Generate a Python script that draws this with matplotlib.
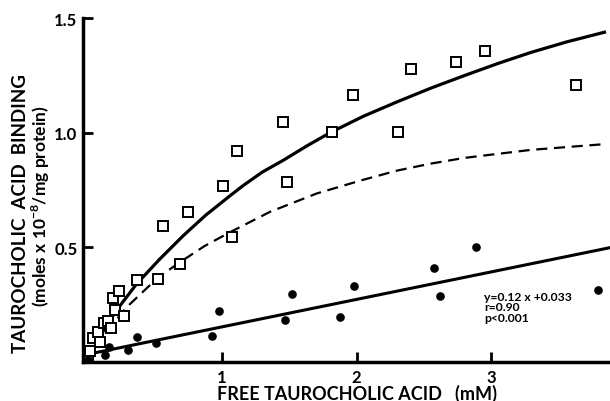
import matplotlib
matplotlib.use("Agg")
import matplotlib.pyplot as plt

plt.rcParams['font.family'] = ['Lato', 'DejaVu Sans']
plt.rcParams['mathtext.fontset'] = 'custom'
plt.rcParams['mathtext.rm'] = 'Lato'
plt.rcParams['mathtext.bf'] = 'Lato:bold'

# open squares (total binding)
sq_x = [0.005, 0.02, 0.045, 0.082, 0.094, 0.124, 0.156, 0.176, 0.21, 0.196,
        0.238, 0.273, 0.374, 0.523, 0.56, 0.686, 0.746, 1.006, 1.073, 1.11,
        1.457, 1.487, 1.82, 1.975, 2.31, 2.40, 2.74, 2.95, 3.63]
sq_y = [0.02, 0.05, 0.103, 0.13, 0.089, 0.17, 0.18, 0.147, 0.228, 0.278,
        0.311, 0.202, 0.357, 0.364, 0.592, 0.428, 0.653, 0.766, 0.546, 0.921,
        1.048, 0.786, 1.003, 1.164, 1.003, 1.278, 1.307, 1.357, 1.207]

# filled circles (nonspecific binding)
dot_x = [0.01, 0.131, 0.161, 0.305, 0.372, 0.515, 0.924, 0.981, 1.465, 1.519,
         1.879, 1.983, 2.575, 2.615, 2.887, 3.794]
dot_y = [0.01, 0.03, 0.064, 0.054, 0.108, 0.081, 0.115, 0.224, 0.185, 0.297,
         0.195, 0.33, 0.408, 0.289, 0.501, 0.313]

# fitted curves
solid_x = [0.0, 0.094, 0.218, 0.367, 0.54, 0.714, 0.88, 1.061, 1.16, 1.3, 1.457,
           1.63, 1.807, 2.052, 2.303, 2.55, 2.8, 3.05, 3.294, 3.56, 3.839]
solid_y = [0.0, 0.11, 0.225, 0.34, 0.449, 0.551, 0.64, 0.725, 0.77, 0.828, 0.88,
           0.942, 1.001, 1.072, 1.135, 1.194, 1.249, 1.302, 1.35, 1.396, 1.438]
dash_x = [0.0, 0.144, 0.292, 0.528, 0.689, 0.87, 1.061, 1.358, 1.705, 2.052,
          2.303, 2.55, 2.8, 3.294, 3.839]
dash_y = [0.0, 0.13, 0.238, 0.369, 0.435, 0.505, 0.566, 0.655, 0.735, 0.795,
          0.835, 0.865, 0.89, 0.925, 0.95]

# regression line of nonspecific binding
slope, intercept = 0.12, 0.033
line_x = [0.0, 3.88]

fig = plt.figure(figsize=(6.10, 4.02), dpi=100)
ax = fig.add_axes([83 / 610, 39 / 402, 527 / 610, 344 / 402])

ax.plot(solid_x, solid_y, color='black', lw=2.3, solid_joinstyle='round')
ax.plot(dash_x, dash_y, color='black', lw=1.6, dashes=(5, 3))
ax.plot(line_x, [slope * v + intercept for v in line_x], color='black', lw=2.2)

ax.plot(sq_x, sq_y, ls='none', marker='s', ms=6.5, mfc='white', mec='black', mew=1.4)
ax.plot(dot_x, dot_y, ls='none', marker='o', ms=5.2, mfc='black', mec='black')

ax.set_xlim(-0.03, 3.88)
ax.set_ylim(0, 1.5)
ax.set_xticks([1, 2, 3])
ax.set_xticklabels(['1', '2', '3'])
ax.set_yticks([0.5, 1.0, 1.5])
ax.set_yticklabels(['0.5', '1.0', '1.5'])
ax.tick_params(direction='in', length=7, width=2, labelsize=12)
ax.tick_params(axis='x', pad=5)
ax.tick_params(axis='y', pad=4)
for lab in ax.get_xticklabels() + ax.get_yticklabels():
    lab.set_fontweight('bold')

for side in ['top', 'right']:
    ax.spines[side].set_visible(False)
for side in ['left', 'bottom']:
    ax.spines[side].set_linewidth(2.5)

ax.text(2.944, 0.31, 'y=0.12 x +0.033\nr=0.90\np<0.001', fontsize=8.7,
        fontweight='bold', va='top', ha='left', linespacing=0.95)

fig.text(357 / 610, 1 - 394 / 402, 'FREE TAUROCHOLIC ACID   (mM)', ha='center',
         va='center', fontsize=13, fontweight='bold')
fig.text(21 / 610, 1 - 214 / 402, 'TAUROCHOLIC  ACID  BINDING', rotation=90,
         ha='center', va='center', fontsize=13.5, fontweight='bold')
fig.text(41 / 610, 1 - 206 / 402, r'(moles x 10$^{\mathbf{-8}}$/mg protein)', rotation=90,
         ha='center', va='center', fontsize=12.5, fontweight='bold')

fig.savefig('out.png', dpi=100, facecolor='white')
